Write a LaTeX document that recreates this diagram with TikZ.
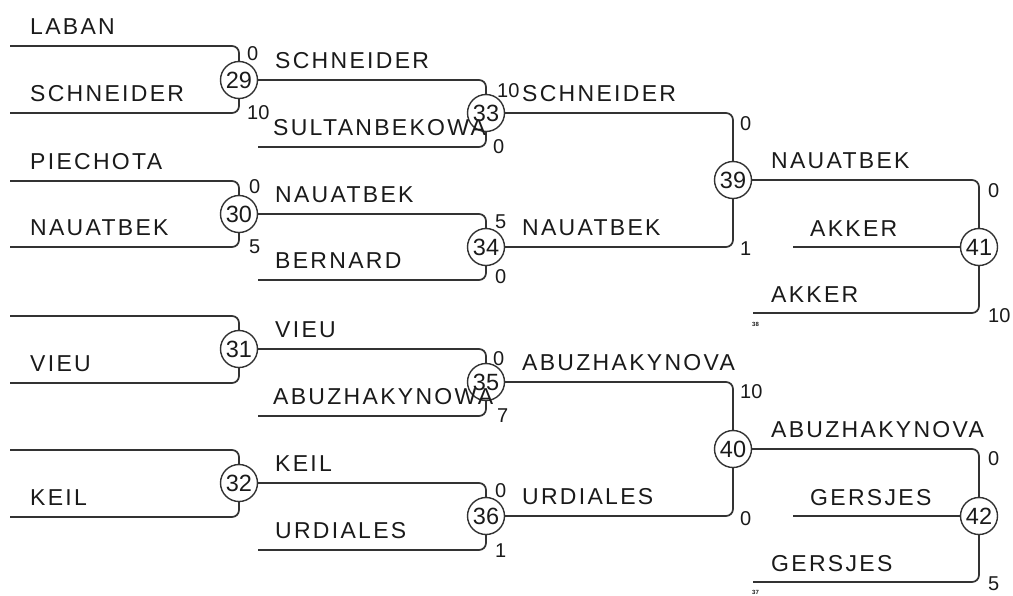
\documentclass[tikz,border=0pt]{standalone}
\usepackage{fontspec}
\setmainfont{Liberation Sans}
\newfontfamily\labfont[LetterSpace=10]{Liberation Sans}
\definecolor{lc}{HTML}{333333}
\definecolor{tc}{HTML}{1A1A1A}
\begin{document}
\begin{tikzpicture}[x=1pt,y=-1pt,
 wire/.style={draw=lc, line width=1.7pt, rounded corners=7pt},
 mc/.style={circle, draw=lc, line width=1.4pt, minimum size=37pt, inner sep=0pt, text=tc, font=\fontsize{23.5}{23.5}\selectfont},
 nm/.style={anchor=base west, inner sep=0pt, text=tc, font=\labfont\fontsize{23}{23}\selectfont},
 sc/.style={anchor=base west, inner sep=0pt, text=tc, font=\fontsize{20}{20}\selectfont},
 tiny/.style={anchor=base west, inner sep=0pt, text=tc, font=\bfseries\fontsize{6}{6}\selectfont},
]
\useasboundingbox (0,0) rectangle (1013,595);

% match circles
\node[mc] (c29) at (239,80) {29};
\node[mc] (c30) at (239,214) {30};
\node[mc] (c31) at (239,349) {31};
\node[mc] (c32) at (239,483) {32};
\node[mc] (c33) at (486,113) {33};
\node[mc] (c34) at (486,247) {34};
\node[mc] (c35) at (486,382) {35};
\node[mc] (c36) at (486,516) {36};
\node[mc] (c39) at (733,180) {39};
\node[mc] (c40) at (733,449) {40};
\node[mc] (c41) at (979,247) {41};
\node[mc] (c42) at (979,516) {42};

% free line ends
\coordinate (a1) at (10,46);  \coordinate (a2) at (10,113);
\coordinate (a3) at (10,181); \coordinate (a4) at (10,247);
\coordinate (a5) at (10,316); \coordinate (a6) at (10,383);
\coordinate (a7) at (10,450); \coordinate (a8) at (10,517);
\coordinate (b1) at (258,147); \coordinate (b2) at (258,280);
\coordinate (b3) at (258,416); \coordinate (b4) at (258,550);
\coordinate (d1) at (793,247); \coordinate (d2) at (753,313);
\coordinate (d3) at (793,516); \coordinate (d4) at (753,582);

% round 1
\draw[wire] (a1) -| (c29.north);
\draw[wire] (a2) -| (c29.south);
\draw[wire] (a3) -| (c30.north);
\draw[wire] (a4) -| (c30.south);
\draw[wire] (a5) -| (c31.north);
\draw[wire] (a6) -| (c31.south);
\draw[wire] (a7) -| (c32.north);
\draw[wire] (a8) -| (c32.south);
% round 2
\draw[wire] (c29.east) -| (c33.north);
\draw[wire] (b1) -| (c33.south);
\draw[wire] (c30.east) -| (c34.north);
\draw[wire] (b2) -| (c34.south);
\draw[wire] (c31.east) -| (c35.north);
\draw[wire] (b3) -| (c35.south);
\draw[wire] (c32.east) -| (c36.north);
\draw[wire] (b4) -| (c36.south);
% round 3
\draw[wire] (c33.east) -| (c39.north);
\draw[wire] (c34.east) -| (c39.south);
\draw[wire] (c35.east) -| (c40.north);
\draw[wire] (c36.east) -| (c40.south);
% round 4
\draw[wire] (c39.east) -| (c41.north);
\draw[wire] (d1) -- (c41.west);
\draw[wire] (d2) -| (c41.south);
\draw[wire] (c40.east) -| (c42.north);
\draw[wire] (d3) -- (c42.west);
\draw[wire] (d4) -| (c42.south);

% names
\node[nm] (n1) at (30,34) {LABAN};
\node[nm] (n2) at (30,101) {SCHNEIDER};
\node[nm] (n3) at (30,169) {PIECHOTA};
\node[nm] (n4) at (30,235) {NAUATBEK};
\node[nm] (n6) at (30,371) {VIEU};
\node[nm] (n8) at (30,505) {KEIL};

\node[nm] (m1) at (275,68) {SCHNEIDER};
\node[nm] (m2) at (273,135) {SULTANBEKOWA};
\node[nm] (m3) at (275,202) {NAUATBEK};
\node[nm] (m4) at (275,268) {BERNARD};
\node[nm] (m5) at (275,337) {VIEU};
\node[nm] (m6) at (273,404) {ABUZHAKYNOWA};
\node[nm] (m7) at (275,471) {KEIL};
\node[nm] (m8) at (275,538) {URDIALES};

\node[nm] (p1) at (522,101) {SCHNEIDER};
\node[nm] (p2) at (522,235) {NAUATBEK};
\node[nm] (p3) at (522,370) {ABUZHAKYNOVA};
\node[nm] (p4) at (522,504) {URDIALES};

\node[nm] (q1) at (771,168) {NAUATBEK};
\node[nm] (q2) at (810,236) {AKKER};
\node[nm] (q3) at (771,302) {AKKER};
\node[nm] (q4) at (771,437) {ABUZHAKYNOVA};
\node[nm] (q5) at (810,505) {GERSJES};
\node[nm] (q6) at (771,571) {GERSJES};

\node[tiny] (t1) at (752,326) {38};
\node[tiny] (t2) at (752,594) {37};

% scores
\node[sc] (s1) at (247,60) {0};
\node[sc] (s2) at (247,119) {10};
\node[sc] (s3) at (249,193) {0};
\node[sc] (s4) at (249,253) {5};
\node[sc] (s5) at (497,97) {10};
\node[sc] (s6) at (493,153) {0};
\node[sc] (s7) at (495,228) {5};
\node[sc] (s8) at (495,283) {0};
\node[sc] (s9) at (493,365) {0};
\node[sc] (s10) at (497,422) {7};
\node[sc] (s11) at (495,497) {0};
\node[sc] (s12) at (495,557) {1};
\node[sc] (s13) at (740,130) {0};
\node[sc] (s14) at (740,255) {1};
\node[sc] (s15) at (740,398) {10};
\node[sc] (s16) at (740,525) {0};
\node[sc] (s17) at (988,197) {0};
\node[sc] (s18) at (988,322) {10};
\node[sc] (s19) at (988,465) {0};
\node[sc] (s20) at (988,590) {5};
\end{tikzpicture}
\end{document}
